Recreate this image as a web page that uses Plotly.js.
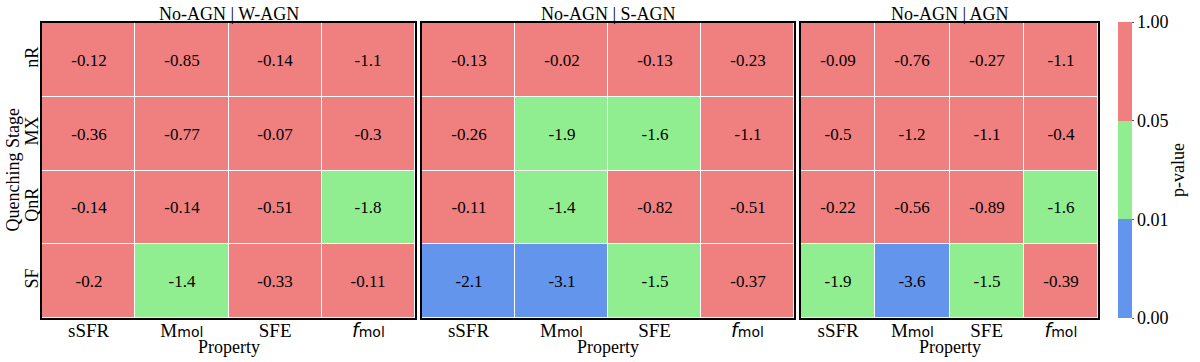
<!DOCTYPE html>
<html>
<head>
<meta charset="utf-8">
<script src="https://cdn.plot.ly/plotly-3.0.1.min.js"></script>
<style>
  body { margin: 0; background: #fff; }
  #chart { width: 1200px; height: 362px; }
</style>
</head>
<body>
<div id="chart"></div>
<script>
// rows top to bottom, columns left to right
var stages = ["nR", "MX", "QnR", "SF"];
var properties = [
  "sSFR",
  "M<span style=\"font-family:DejaVu Sans;font-size:14px\">mol</span>",
  "SFE",
  "<span style=\"font-family:DejaVu Sans\"><i>f</i></span><span style=\"font-family:DejaVu Sans;font-size:14px\">mol</span>"
];
var panelTitles = ["No-AGN | W-AGN", "No-AGN | S-AGN", "No-AGN | AGN"];

// log10(p) shown in each cell
var wagn = [
  [-0.12, -0.85, -0.14, -1.1],
  [-0.36, -0.77, -0.07, -0.3],
  [-0.14, -0.14, -0.51, -1.8],
  [-0.2, -1.4, -0.33, -0.11]
];
var sagn = [
  [-0.13, -0.02, -0.13, -0.23],
  [-0.26, -1.9, -1.6, -1.1],
  [-0.11, -1.4, -0.82, -0.51],
  [-2.1, -3.1, -1.5, -0.37]
];
var agn = [
  [-0.09, -0.76, -0.27, -1.1],
  [-0.5, -1.2, -1.1, -0.4],
  [-0.22, -0.56, -0.89, -1.6],
  [-1.9, -3.6, -1.5, -0.39]
];

var pBounds = [0.0, 0.01, 0.05, 1.0];
var pLabels = ["0.00", "0.01", "0.05", "1.00"];
var colors = ["#6495ED", "#90EE90", "#F08080"];

// map p-value to colour bin index (centre of bin)
function binOf(logp) {
  var p = Math.pow(10, logp);
  if (p < pBounds[1]) return 0.5;
  if (p < pBounds[2]) return 1.5;
  return 2.5;
}

var scale = [
  [0, colors[0]], [1 / 3, colors[0]],
  [1 / 3, colors[1]], [2 / 3, colors[1]],
  [2 / 3, colors[2]], [1, colors[2]]
];

var serif = "Liberation Serif, Times New Roman, serif";
var panels = [wagn, sagn, agn];
var data = [];
panels.forEach(function (vals, i) {
  data.push({
    type: "heatmap",
    x: properties,
    y: stages,
    z: vals.map(function (r) { return r.map(binOf); }),
    text: vals.map(function (r) { return r.map(String); }),
    texttemplate: "%{text}",
    textfont: { family: serif, size: 17, color: "black" },
    colorscale: scale,
    zmin: 0,
    zmax: 3,
    xgap: 1,
    ygap: 1,
    showscale: i === 2,
    xaxis: i === 0 ? "x" : "x" + (i + 1),
    yaxis: i === 0 ? "y" : "y" + (i + 1),
    hoverinfo: "skip",
    colorbar: {
      tickvals: [0, 1, 2, 3],
      ticktext: pLabels,
      tickfont: { family: serif, size: 18, color: "black" },
      ticks: "outside",
      ticklen: 2,
      tickcolor: "#555",
      thickness: 14,
      len: 296 / 362,
      lenmode: "fraction",
      x: 1118 / 1200,
      xanchor: "left",
      xpad: 0,
      y: 1 - 170 / 362,
      yanchor: "middle",
      ypad: 0,
      outlinewidth: 0
    }
  });
});

var domains = [[42, 415], [422, 794], [801, 1098]];
var yDom = [1 - 318 / 362, 1 - 23 / 362];

var layout = {
  width: 1200,
  height: 362,
  margin: { l: 0, r: 0, t: 0, b: 0 },
  paper_bgcolor: "white",
  plot_bgcolor: "white",
  font: { family: serif, color: "black" },
  annotations: [{
    text: "Quenching Stage",
    xref: "paper", yref: "paper",
    x: 12 / 1200, y: (yDom[0] + yDom[1]) / 2,
    xanchor: "center", yanchor: "middle",
    textangle: -90, showarrow: false,
    font: { family: serif, size: 18, color: "black" }
  }, {
    text: "p-value",
    xref: "paper", yref: "paper",
    x: 1178 / 1200, y: 1 - 170 / 362,
    xanchor: "center", yanchor: "middle",
    textangle: -90, showarrow: false,
    font: { family: serif, size: 18, color: "black" }
  }]
};

domains.forEach(function (d, i) {
  var xk = i === 0 ? "xaxis" : "xaxis" + (i + 1);
  var yk = i === 0 ? "yaxis" : "yaxis" + (i + 1);
  layout[xk] = {
    domain: [d[0] / 1200, d[1] / 1200],
    anchor: i === 0 ? "y" : "y" + (i + 1),
    showline: true, mirror: true, linecolor: "black", linewidth: 2,
    ticks: "", showgrid: false, zeroline: false,
    ticklabelstandoff: -6,
    tickfont: { family: serif, size: 19, color: "black" }
  };
  layout[yk] = {
    domain: yDom,
    anchor: i === 0 ? "x" : "x" + (i + 1),
    autorange: "reversed",
    showline: true, mirror: true, linecolor: "black", linewidth: 2,
    ticks: "", showgrid: false, zeroline: false,
    showticklabels: i === 0,
    ticklabelstandoff: -5,
    tickangle: -90,
    tickfont: { family: serif, size: 18, color: "black" }
  };
  layout.annotations.push({
    text: panelTitles[i],
    xref: "paper", yref: "paper",
    x: (d[0] + d[1]) / 2 / 1200, y: yDom[1],
    xanchor: "center", yanchor: "bottom", yshift: -3,
    showarrow: false,
    font: { family: serif, size: 18, color: "black" }
  });
  layout.annotations.push({
    text: "Property",
    xref: "paper", yref: "paper",
    x: (d[0] + d[1]) / 2 / 1200, y: 1 - 347 / 362,
    xanchor: "center", yanchor: "middle",
    showarrow: false,
    font: { family: serif, size: 18, color: "black" }
  });
});

Plotly.newPlot("chart", data, layout, { displayModeBar: false, staticPlot: true });
</script>
</body>
</html>
